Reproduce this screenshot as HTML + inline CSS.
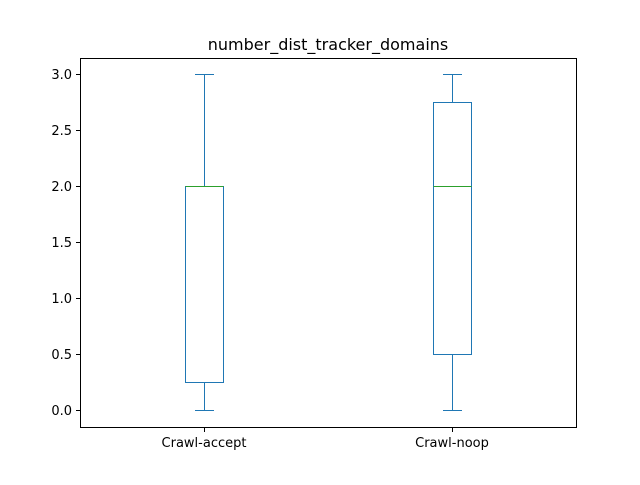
<!DOCTYPE html>
<html><head><style>body{margin:0;background:#fff}svg text{font-family:"DejaVu Sans","Liberation Sans",sans-serif}</style></head>
<body>
<svg width="640" height="480" xmlns="http://www.w3.org/2000/svg">
<rect width="640" height="480" fill="#fff"/>
<text x="328" y="50" font-size="16" text-anchor="middle">number_dist_tracker_domains</text>
<rect x="80.5" y="58.5" width="496" height="369" fill="none" stroke="#000" stroke-width="1"/>
<g stroke="#000" stroke-width="1">
<line x1="76" y1="410.5" x2="80" y2="410.5"/><line x1="76" y1="354.5" x2="80" y2="354.5"/>
<line x1="76" y1="298.5" x2="80" y2="298.5"/><line x1="76" y1="242.5" x2="80" y2="242.5"/>
<line x1="76" y1="186.5" x2="80" y2="186.5"/><line x1="76" y1="130.5" x2="80" y2="130.5"/>
<line x1="76" y1="74.5" x2="80" y2="74.5"/>
<line x1="204.5" y1="428" x2="204.5" y2="432"/><line x1="452.5" y1="428" x2="452.5" y2="432"/>
</g>
<g font-size="13" text-anchor="end">
<text x="72" y="415">0.0</text><text x="72" y="359">0.5</text><text x="72" y="303">1.0</text>
<text x="72" y="247">1.5</text><text x="72" y="191">2.0</text><text x="72" y="135">2.5</text>
<text x="72" y="79">3.0</text>
</g>
<g font-size="13" text-anchor="middle">
<text x="204" y="447">Crawl-accept</text><text x="452" y="447">Crawl-noop</text>
</g>
<g stroke="#1f77b4" fill="none" stroke-width="1">
<rect x="185.5" y="186.5" width="38" height="196"/>
<line x1="204.5" y1="186" x2="204.5" y2="74.5"/><line x1="204.5" y1="382" x2="204.5" y2="410.5"/>
<line x1="195" y1="74.5" x2="214" y2="74.5"/><line x1="195" y1="410.5" x2="214" y2="410.5"/>
<rect x="433.5" y="102.5" width="38" height="252"/>
<line x1="452.5" y1="102" x2="452.5" y2="74.5"/><line x1="452.5" y1="354" x2="452.5" y2="410.5"/>
<line x1="443" y1="74.5" x2="462" y2="74.5"/><line x1="443" y1="410.5" x2="462" y2="410.5"/>
</g>
<g stroke="#2ca02c" stroke-width="1">
<line x1="185.5" y1="186.5" x2="223.5" y2="186.5"/>
<line x1="433.5" y1="186.5" x2="471.5" y2="186.5"/>
</g>
</svg>
</body></html>
